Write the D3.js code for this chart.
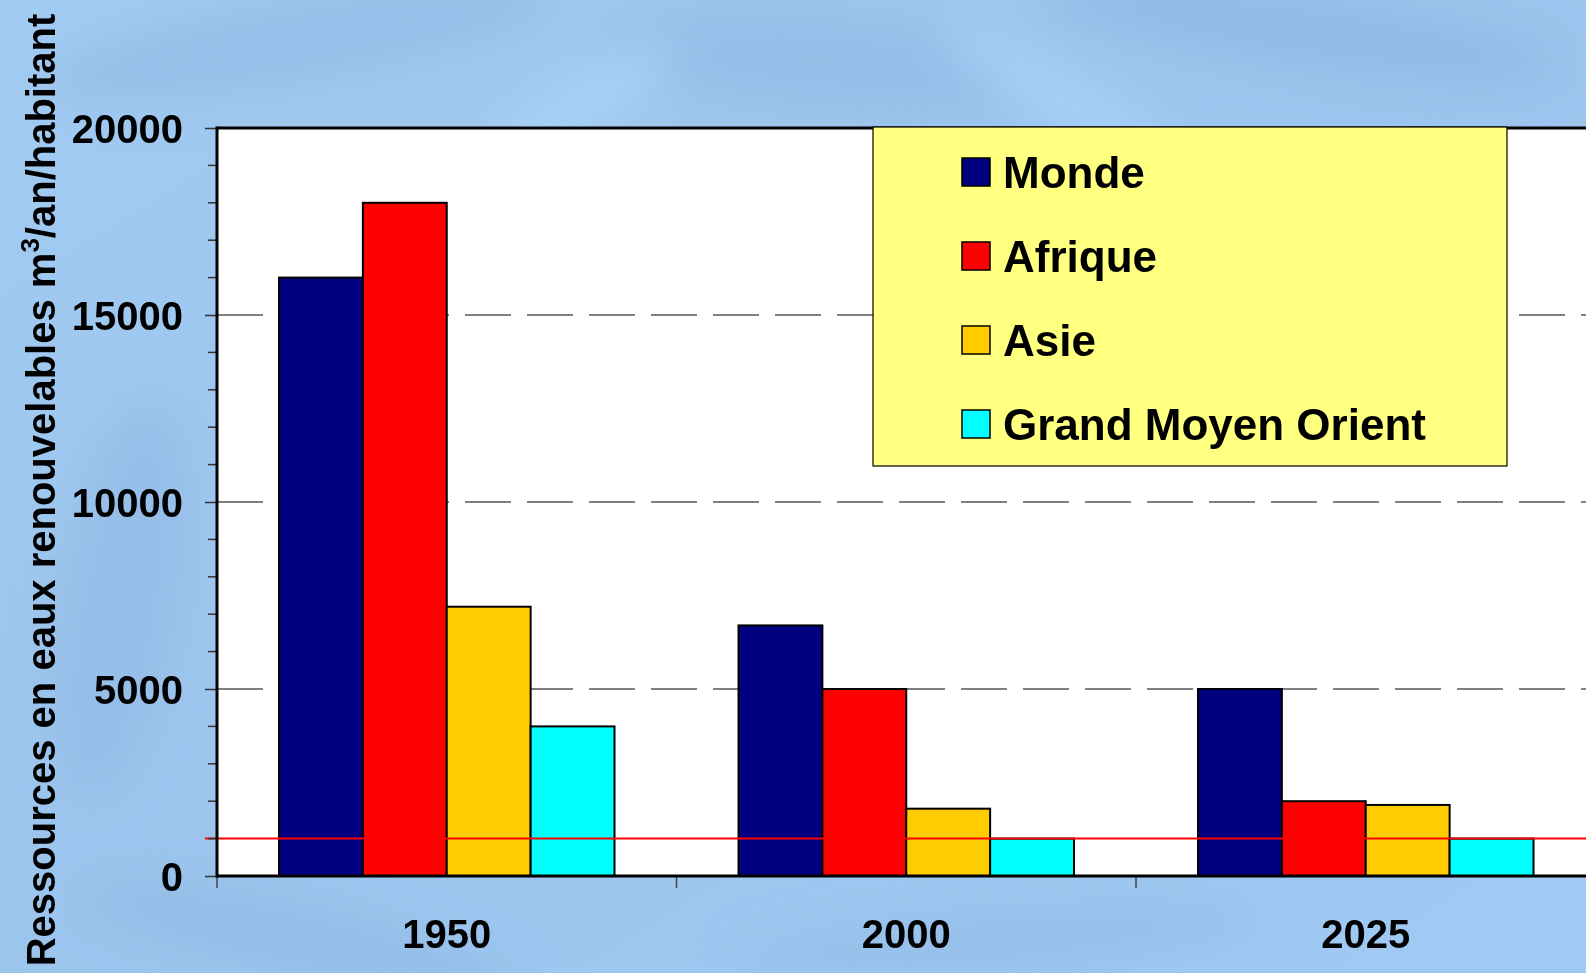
<!DOCTYPE html>
<html>
<head>
<meta charset="utf-8">
<script src="https://cdn.jsdelivr.net/npm/d3@7"></script>
<style>
  html, body { margin: 0; padding: 0; overflow: hidden; background: #9dc6ef; }
  svg { display: block; font-family: "Liberation Sans", Arial, sans-serif; font-weight: bold; }
</style>
</head>
<body>
<script>
// ---- data ----
const years = ["1950", "2000", "2025"];
const seriesNames = ["Monde", "Afrique", "Asie", "Grand Moyen Orient"];
const monde = [16000, 6700, 5000];
const afrique = [18000, 5000, 2000];
const asie = [7200, 1800, 1900];
const grandMoyenOrient = [4000, 1000, 1000];
const seriesColors = ["#000080", "#FF0000", "#FFCC00", "#00FFFF"];
const yTickValues = [0, 5000, 10000, 15000, 20000];
const stressThreshold = 1000;
const yTitle = "Ressources en eaux renouvelables m";
const yTitleSup = "3";
const yTitleEnd = "/an/habitant";

const seriesValues = [monde, afrique, asie, grandMoyenOrient];

const W = 1586, H = 973;
const svg = d3.select("body").append("svg").attr("width", W).attr("height", H);

// ---- background (watery blue) ----
const defs = svg.append("defs");
const bg = defs.append("linearGradient").attr("id", "bg").attr("x1", 0).attr("y1", 0).attr("x2", 1).attr("y2", 1);
bg.append("stop").attr("offset", 0).attr("stop-color", "#a2cbf2");
bg.append("stop").attr("offset", 0.5).attr("stop-color", "#9cc5ee");
bg.append("stop").attr("offset", 1).attr("stop-color", "#a0caf3");
defs.append("filter").attr("id", "blur").append("feGaussianBlur").attr("stdDeviation", 22);
svg.append("rect").attr("width", W).attr("height", H).attr("fill", "url(#bg)");
const blobs = svg.append("g").attr("filter", "url(#blur)");
[[300, 40, 260, 40, -10, "#93bce6"], [820, 60, 220, 50, 5, "#93bbe6"], [1300, 30, 260, 35, 8, "#8eb7e2"],
 [560, 120, 140, 25, -35, "#a9d5fb"], [1080, 110, 160, 22, 30, "#a9d5fb"],
 [120, 600, 60, 200, 10, "#93bce6"], [300, 940, 220, 30, 12, "#90b9e4"], [1000, 940, 260, 30, -5, "#94bde7"]]
  .forEach(([cx, cy, rx, ry, rot, c]) => {
    blobs.append("ellipse").attr("cx", cx).attr("cy", cy).attr("rx", rx).attr("ry", ry)
      .attr("transform", `rotate(${rot},${cx},${cy})`).attr("fill", c).attr("opacity", 0.8);
  });

// ---- scales ----
const plotLeft = 217, plotTop = 128, plotBottom = 876, bandW = 459.5;
const x = d3.scaleBand().domain(years).range([plotLeft, plotLeft + bandW * years.length]);
const xInner = d3.scaleBand().domain(seriesNames).range([62, bandW - 62]);
const y = d3.scaleLinear().domain([0, 20000]).range([plotBottom, plotTop]);

// plot area
svg.append("rect").attr("x", plotLeft).attr("y", plotTop).attr("width", W - plotLeft + 10)
  .attr("height", plotBottom - plotTop).attr("fill", "#ffffff");

// gridlines
svg.append("g").selectAll("line").data(yTickValues.filter(v => v > 0 && v < 20000)).join("line")
  .attr("x1", plotLeft).attr("x2", W + 10).attr("y1", d => y(d)).attr("y2", d => y(d))
  .attr("stroke", "#555").attr("stroke-width", 1.3).attr("stroke-dasharray", "46,16");

// bars
const gBars = svg.append("g");
seriesNames.forEach((s, si) => {
  gBars.append("g").selectAll("rect").data(years.map((yr, i) => ({ yr, v: seriesValues[si][i] }))).join("rect")
    .attr("x", d => x(d.yr) + xInner(s)).attr("width", xInner.bandwidth())
    .attr("y", d => y(d.v)).attr("height", d => y(0) - y(d.v))
    .attr("fill", seriesColors[si]).attr("stroke", "#000").attr("stroke-width", 2);
});

// threshold line
svg.append("line").attr("x1", 205).attr("x2", W + 10).attr("y1", y(stressThreshold)).attr("y2", y(stressThreshold))
  .attr("stroke", "#ff0000").attr("stroke-width", 2);

// y axis
const yAxis = d3.axisLeft(y).tickValues(yTickValues).tickFormat(d3.format("d")).tickSize(12).tickPadding(22);
const gy = svg.append("g").attr("transform", `translate(${plotLeft},0)`).call(yAxis);
gy.select(".domain").remove();
gy.selectAll(".tick line").attr("stroke", "#333").attr("stroke-width", 1.5);
gy.selectAll(".tick text").attr("font-size", 40).attr("font-weight", "bold").attr("fill", "#000")
  .attr("font-family", "Liberation Sans, Arial, sans-serif").attr("dy", "0.36em");
// minor ticks
svg.append("g").selectAll("line").data(d3.range(0, 20001, 1000).filter(v => v % 5000 !== 0)).join("line")
  .attr("x1", 208).attr("x2", plotLeft).attr("y1", d => y(d)).attr("y2", d => y(d))
  .attr("stroke", "#333").attr("stroke-width", 1.5);

// x axis
const xTickPos = years.map(yr => x(yr)).concat([x(years[years.length - 1]) + x.bandwidth()]);
svg.append("g").selectAll("line").data(xTickPos).join("line")
  .attr("x1", d => d).attr("x2", d => d).attr("y1", plotBottom).attr("y2", plotBottom + 12)
  .attr("stroke", "#444").attr("stroke-width", 1.5);
svg.append("g").selectAll("text").data(years).join("text")
  .attr("x", d => x(d) + x.bandwidth() / 2).attr("y", 948)
  .attr("text-anchor", "middle").attr("font-size", 40).attr("fill", "#000").text(d => d);

// frame lines: left, top, bottom
svg.append("line").attr("x1", plotLeft).attr("x2", plotLeft).attr("y1", plotTop - 1.5).attr("y2", plotBottom + 1.5)
  .attr("stroke", "#000").attr("stroke-width", 3);
svg.append("line").attr("x1", plotLeft).attr("x2", W + 10).attr("y1", plotTop).attr("y2", plotTop)
  .attr("stroke", "#000").attr("stroke-width", 3);
svg.append("line").attr("x1", plotLeft).attr("x2", W + 10).attr("y1", plotBottom).attr("y2", plotBottom)
  .attr("stroke", "#000").attr("stroke-width", 3);

// y title
const yt = svg.append("text").attr("transform", "translate(55,490) rotate(-90)")
  .attr("text-anchor", "middle").attr("font-size", 40).attr("fill", "#000");
yt.append("tspan").text(yTitle);
yt.append("tspan").attr("font-size", 26).attr("dy", -16).text(yTitleSup);
yt.append("tspan").attr("dy", 16).text(yTitleEnd);

// legend
const lg = svg.append("g");
lg.append("rect").attr("x", 873).attr("y", 127).attr("width", 634).attr("height", 339)
  .attr("fill", "#FFFF80").attr("stroke", "#000").attr("stroke-width", 1.2);
const legendY = d3.scalePoint().domain(seriesNames).range([172, 424]);
const items = lg.selectAll("g.item").data(seriesNames).join("g").attr("class", "item")
  .attr("transform", d => `translate(0,${legendY(d)})`);
items.append("rect").attr("x", 962).attr("y", -14).attr("width", 28).attr("height", 28)
  .attr("fill", (d, i) => seriesColors[i]).attr("stroke", "#000").attr("stroke-width", 1.5);
items.append("text").attr("x", 1003).attr("y", 0).attr("dy", "0.36em")
  .attr("font-size", 44).attr("fill", "#000").text(d => d);
</script>
</body>
</html>
